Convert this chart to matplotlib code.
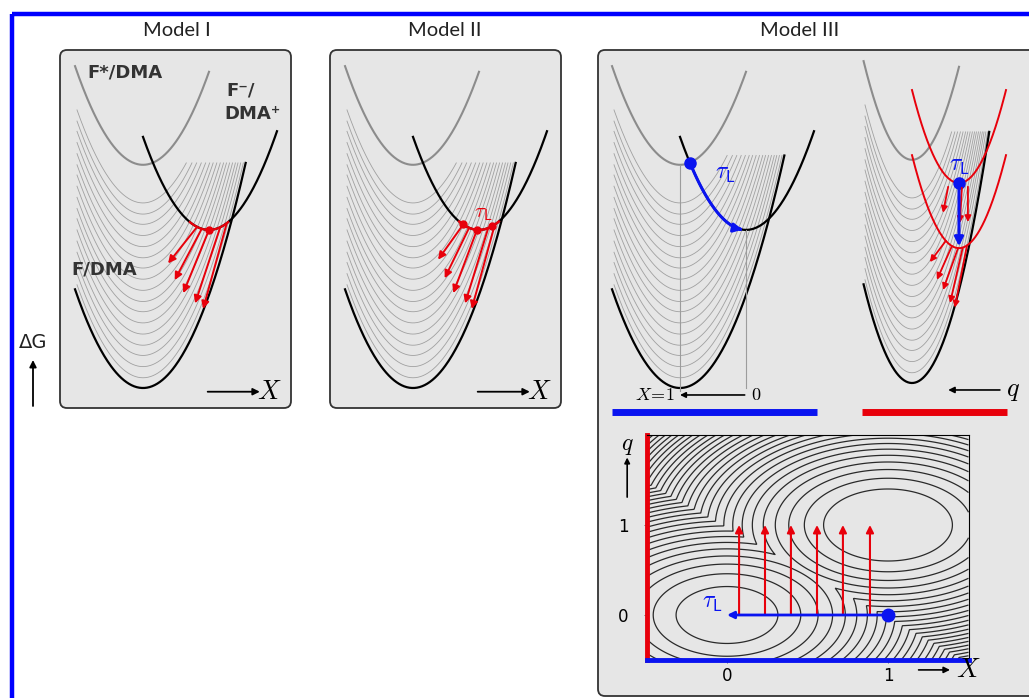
"""
Schematic: Model I / II / III free-energy curves and the (X, q) contour map.
Curves are drawn in schematic units, G = (u - centre)^2 + minimum.
"""

import numpy as np
import matplotlib.pyplot as plt
from matplotlib.patches import FancyBboxPatch, Rectangle

plt.rcParams['mathtext.fontset'] = 'cm'

W, H = 1029, 698
RED = "#e8000b"
BLUE = "#0a14f0"
GREY = "#8c8c8c"
BOX_FC = "#e6e6e6"

# ── well parameters (schematic units) ────────────────────────────────────────
GROUND_CENTRE, GROUND_MIN = 0.0, 0.0        # F/DMA
EXCITED_CENTRE, EXCITED_MIN = 0.0, 2.4      # F*/DMA
CT_CENTRE, CT_MIN = 1.0, 1.7                # F-/DMA+
VIB_OFFSETS = [0.11, 0.23, 0.35, 0.46, 0.58, 0.70, 0.82, 0.93, 1.05,
               1.17, 1.29, 1.40, 1.52, 1.64, 1.76, 1.87, 1.99]
Q_SHIFTED_MINIMA = [2.15, 1.45]             # red CT curves, Model III right

# Model I: red relaxation arrows (start on CT curve -> end point)
M1_START_U = [0.82, 0.89, 1.00, 1.17, 1.27]
M1_END_U = [0.38, 0.48, 0.61, 0.79, 0.91]
M1_END_G = [1.34, 1.16, 1.02, 0.91, 0.85]

# Model II
M2_DOTS_U = [0.75, 0.97, 1.20]
M2_START_U = [0.76, 0.85, 0.97, 1.14, 1.24]
M2_END_U = [0.38, 0.48, 0.61, 0.79, 0.89]
M2_END_G = [1.38, 1.18, 1.02, 0.91, 0.85]

# Model III left: blue path along CT curve
M3_BLUE_U = (0.15, 0.95)

# Model III right: short red arrows
M3R_UP_START_U = [0.77, 1.06, 1.19]
M3R_UP_START_G = [2.11, 2.10, 2.11]
M3R_UP_END_U = [0.66, 1.02, 1.19]
M3R_UP_END_G = [1.83, 1.72, 1.73]
M3R_LO_START_U = [0.72, 0.85, 0.98, 1.08, 1.17]
M3R_LO_END_U = [0.38, 0.53, 0.66, 0.81, 0.91]
M3R_LO_END_G = [1.30, 1.11, 1.00, 0.86, 0.81]

# contour map
LEFT_MIN = (0.0, 0.0)
RIGHT_MIN = (1.0, 1.0)
RIGHT_OFFSET = -0.06
CONTOUR_LEVELS = np.arange(0.1, 4.0, 0.11)
UP_ARROW_X = [0.075, 0.236, 0.397, 0.559, 0.72, 0.888]


def panel_axes(fig, left, top, right, bottom, ox, oy, sx, sy):
    """Axes over a pixel rect, data units mapped so (0,0) sits at pixel (ox, oy)."""
    ax = fig.add_axes([left / W, 1 - bottom / H, (right - left) / W, (bottom - top) / H])
    ax.set_xlim((left - ox) / sx, (right - ox) / sx)
    ax.set_ylim((oy - bottom) / sy, (oy - top) / sy)
    ax.axis("off")
    ax.patch.set_alpha(0)
    return ax


def arrow(ax, x0, y0, x1, y1, color, lw=1.4, ms=11):
    ax.annotate("", xy=(x1, y1), xytext=(x0, y0), annotation_clip=False,
                arrowprops=dict(arrowstyle="-|>", color=color, lw=lw,
                                mutation_scale=ms, shrinkA=0, shrinkB=0))


def ct(u):
    return (u - CT_CENTRE) ** 2 + CT_MIN


def draw_wells(ax, cut, show_ct=True):
    u = np.linspace(-1.03, 1.0, 200)
    ax.plot(u, (u - EXCITED_CENTRE) ** 2 + EXCITED_MIN, color=GREY, lw=1.5)
    for c in VIB_OFFSETS:
        u = np.linspace(-1.0, np.sqrt(cut - c), 200)
        ax.plot(u, u ** 2 + c, color="#a0a0a0", lw=0.6)
    u = np.linspace(-1.03, np.sqrt(cut - GROUND_MIN), 200)
    ax.plot(u, (u - GROUND_CENTRE) ** 2 + GROUND_MIN, color="black", lw=1.6)
    if show_ct:
        u = np.linspace(0.0, 2.03, 200)
        ax.plot(u, ct(u), color="black", lw=1.6)


fig = plt.figure(figsize=(W / 100, H / 100), dpi=100)
fig.patch.set_facecolor("white")

# ── background: frame, boxes, titles ─────────────────────────────────────────
bg = fig.add_axes([0, 0, 1, 1])
bg.set_xlim(0, W)
bg.set_ylim(H, 0)
bg.axis("off")
bg.add_patch(Rectangle((12, 14), 1100, 800, fill=False, ec="#0000ff", lw=3.2))
for x0, y0, w, h in [(60, 50, 231, 358), (330, 50, 231, 358), (598, 50, 460, 646)]:
    bg.add_patch(FancyBboxPatch((x0, y0), w, h, boxstyle="round,pad=0,rounding_size=7",
                                fc=BOX_FC, ec="#333333", lw=1.3))
for x, t in [(177, "Model I"), (445, "Model II"), (800, "Model III")]:
    bg.text(x, 30, t, ha="center", va="center", fontsize=14.5, family="Lato", color="#222222")
bg.text(33, 342, "ΔG", ha="center", va="center", fontsize=14, family="DejaVu Sans", color="#222222")
bg.annotate("", xy=(33, 360), xytext=(33, 406),
            arrowprops=dict(arrowstyle="-|>", color="black", lw=1.3, mutation_scale=10,
                            shrinkA=0, shrinkB=0))

# ── Model I ──────────────────────────────────────────────────────────────────
ax1 = panel_axes(fig, 60, 50, 291, 408, 143, 388, 66, 93)
draw_wells(ax1, 2.42)
u = np.linspace(0.71, 1.29, 50)
ax1.plot(u, ct(u), color=RED, lw=1.6)
for s, eu, eg in zip(M1_START_U, M1_END_U, M1_END_G):
    arrow(ax1, s, ct(s), eu, eg, RED)
ax1.plot([1.0], [ct(1.0)], "o", color=RED, ms=5)
lab = dict(fontsize=13, fontweight="bold", color="#333333", va="center")
ax1.text(-0.85, 3.39, "F*/DMA", **lab)
ax1.text(1.27, 3.20, "F⁻/", **lab)
ax1.text(1.23, 2.95, "DMA⁺", **lab)
ax1.text(-1.09, 1.27, "F/DMA", **lab)
arrow(ax1, 0.98, -0.04, 1.77, -0.04, "black", lw=1.3, ms=10)
ax1.text(1.92, -0.04, "$X$", fontsize=19, va="center", ha="center")

# ── Model II ─────────────────────────────────────────────────────────────────
ax2 = panel_axes(fig, 330, 50, 561, 408, 413, 388, 66, 93)
draw_wells(ax2, 2.42)
u = np.linspace(0.70, 1.30, 50)
ax2.plot(u, ct(u), color=RED, lw=1.8)
for s, eu, eg in zip(M2_START_U, M2_END_U, M2_END_G):
    arrow(ax2, s, ct(s), eu, eg, RED)
ax2.plot(M2_DOTS_U, [ct(d) for d in M2_DOTS_U], "o", color=RED, ms=5)
ax2.text(1.06, 1.88, r"$\tau_{\mathsf{L}}$", color=RED, fontsize=15, ha="center", va="center")
arrow(ax2, 0.98, -0.04, 1.77, -0.04, "black", lw=1.3, ms=10)
ax2.text(1.92, -0.04, "$X$", fontsize=19, va="center", ha="center")

# ── Model III, left ──────────────────────────────────────────────────────────
ax3 = panel_axes(fig, 598, 50, 830, 425, 680, 388, 66, 93)
draw_wells(ax3, 2.5)
ax3.plot([0, 0], [-0.03, EXCITED_MIN], color="#9c9c9c", lw=0.8)
ax3.plot([1, 1], [0.0, CT_MIN], color="#9c9c9c", lw=0.8)
u = np.linspace(*M3_BLUE_U, 60)
ax3.plot(u[:-3], ct(u[:-3]), color=BLUE, lw=2.2)
arrow(ax3, u[-4], ct(u[-4]), u[-1], ct(u[-1]), BLUE, lw=2.2, ms=13)
ax3.plot([M3_BLUE_U[0]], [ct(M3_BLUE_U[0])], "o", color=BLUE, ms=8)
ax3.text(0.68, 2.31, r"$\tau_{\mathsf{L}}$", color=BLUE, fontsize=17, ha="center", va="center")
arrow(ax3, 0.98, -0.075, 0.0, -0.075, "black", lw=1.2, ms=8)
ax3.text(-0.09, -0.075, r"$X\!=\!1$", fontsize=13, ha="right", va="center")
ax3.text(1.08, -0.075, "$0$", fontsize=13, ha="left", va="center")
ax3.plot([-1.03, 2.08], [-0.26, -0.26], color=BLUE, lw=5, solid_capstyle="butt")

# ── Model III, right ─────────────────────────────────────────────────────────
ax4 = panel_axes(fig, 830, 50, 1029, 425, 912, 383, 47, 93)
draw_wells(ax4, 2.7, show_ct=False)
u = np.linspace(0.0, 2.0, 200)
for g0 in Q_SHIFTED_MINIMA:
    ax4.plot(u, (u - 1.0) ** 2 + g0, color=RED, lw=1.4)
for su, sg, eu, eg in zip(M3R_UP_START_U, M3R_UP_START_G, M3R_UP_END_U, M3R_UP_END_G):
    arrow(ax4, su, sg, eu, eg, RED, lw=1.3, ms=9)
for su, eu, eg in zip(M3R_LO_START_U, M3R_LO_END_U, M3R_LO_END_G):
    arrow(ax4, su, (su - 1.0) ** 2 + Q_SHIFTED_MINIMA[1], eu, eg, RED, lw=1.3, ms=9)
arrow(ax4, 1.0, Q_SHIFTED_MINIMA[0], 1.0, Q_SHIFTED_MINIMA[1] + 0.02, BLUE, lw=2.2, ms=13)
ax4.plot([1.0], [Q_SHIFTED_MINIMA[0]], "o", color=BLUE, ms=8)
ax4.text(1.0, 2.34, r"$\tau_{\mathsf{L}}$", color=BLUE, fontsize=17, ha="center", va="center")
arrow(ax4, 1.87, -0.075, 0.77, -0.075, "black", lw=1.2, ms=9)
ax4.text(2.15, -0.075, "$q$", fontsize=19, ha="center", va="center")
ax4.plot([-1.06, 2.02], [-0.31, -0.31], color=RED, lw=5, solid_capstyle="butt")

# ── Model III, contour map ───────────────────────────────────────────────────
ax5 = fig.add_axes([646.5 / W, 1 - 660 / H, 322 / W, 225 / H])
ax5.patch.set_alpha(0)
X, Q = np.meshgrid(np.linspace(-0.5, 1.5, 500), np.linspace(-0.5, 2.0, 500))
v1 = (X - LEFT_MIN[0]) ** 2 + (Q - LEFT_MIN[1]) ** 2
v2 = (X - RIGHT_MIN[0]) ** 2 + (Q - RIGHT_MIN[1]) ** 2 + RIGHT_OFFSET
ax5.contour(X, Q, np.minimum(v1, v2), levels=CONTOUR_LEVELS, colors="#2a2a2a", linewidths=0.9)
ax5.set_xlim(-0.5, 1.5)
ax5.set_ylim(-0.5, 2.0)
ax5.set_xticks([0, 1])
ax5.set_yticks([0, 1])
ax5.tick_params(length=2, width=0.6, pad=3, labelsize=12, color="#555555")
ax5.tick_params(axis="y", pad=11)
for side in ("top", "right"):
    ax5.spines[side].set_linewidth(0.8)
ax5.spines["left"].set_color(RED)
ax5.spines["left"].set_linewidth(3.5)
ax5.spines["bottom"].set_color(BLUE)
ax5.spines["bottom"].set_linewidth(3.5)
for x in UP_ARROW_X:
    arrow(ax5, x, 0.0, x, 1.0, RED, lw=1.5, ms=11)
arrow(ax5, 1.0, 0.0, 0.0, 0.0, BLUE, lw=2.0, ms=10)
ax5.plot([1.0], [0.0], "o", color=BLUE, ms=9)
ax5.text(-0.09, 0.14, r"$\tau_{\mathsf{L}}$", color=BLUE, fontsize=17, ha="center", va="center")
ax5.text(-0.62, 1.89, "$q$", fontsize=17, ha="center", va="center", clip_on=False)
arrow(ax5, -0.62, 1.31, -0.62, 1.75, "black", lw=1.2, ms=8)
arrow(ax5, 1.19, -0.61, 1.385, -0.61, "black", lw=1.2, ms=9)
ax5.text(1.5, -0.61, "$X$", fontsize=19, ha="center", va="center", clip_on=False)

plt.savefig("out.png", dpi=100)
